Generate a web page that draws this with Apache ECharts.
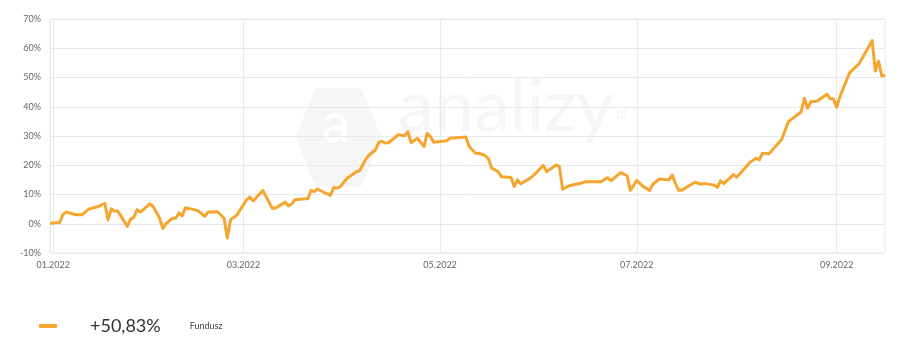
<!DOCTYPE html>
<html>
<head>
<meta charset="utf-8">
<script src="https://cdn.jsdelivr.net/npm/echarts@6/dist/echarts.min.js"></script>
<style>
html,body{margin:0;padding:0;background:#fff;}
#chart{width:912px;height:358px;}
</style>
</head>
<body>
<div id="chart"></div>
<script>
const seriesName = 'Fundusz';
const dates = [
'2021-12-31','2022-01-03','2022-01-04','2022-01-05','2022-01-07','2022-01-08','2022-01-10','2022-01-12','2022-01-15','2022-01-17',
'2022-01-18','2022-01-19','2022-01-20','2022-01-21','2022-01-24','2022-01-25','2022-01-26','2022-01-27','2022-01-28','2022-01-31',
'2022-02-01','2022-02-03','2022-02-04','2022-02-05','2022-02-07','2022-02-08','2022-02-09','2022-02-10','2022-02-11','2022-02-13',
'2022-02-15','2022-02-17','2022-02-18','2022-02-21','2022-02-23','2022-02-24','2022-02-25','2022-02-27','2022-02-28','2022-03-02',
'2022-03-03','2022-03-04','2022-03-07','2022-03-10','2022-03-11','2022-03-14','2022-03-15','2022-03-16','2022-03-17','2022-03-21',
'2022-03-22','2022-03-23','2022-03-24','2022-03-26','2022-03-28','2022-03-29','2022-03-30','2022-03-31','2022-04-02','2022-04-05',
'2022-04-06','2022-04-08','2022-04-09','2022-04-11','2022-04-12','2022-04-13','2022-04-14','2022-04-15','2022-04-18','2022-04-20',
'2022-04-21','2022-04-22','2022-04-24','2022-04-26','2022-04-27','2022-04-28','2022-04-29','2022-05-01','2022-05-03','2022-05-04',
'2022-05-07','2022-05-09','2022-05-10','2022-05-12','2022-05-13','2022-05-15','2022-05-16','2022-05-17','2022-05-19','2022-05-20',
'2022-05-23','2022-05-24','2022-05-25','2022-05-26','2022-05-29','2022-05-31','2022-06-02','2022-06-03','2022-06-06','2022-06-07',
'2022-06-08','2022-06-10','2022-06-14','2022-06-15','2022-06-20','2022-06-22','2022-06-23','2022-06-26','2022-06-28','2022-06-29',
'2022-07-01','2022-07-03','2022-07-05','2022-07-06','2022-07-08','2022-07-11','2022-07-12','2022-07-13','2022-07-14','2022-07-15',
'2022-07-19','2022-07-21','2022-07-22','2022-07-25','2022-07-26','2022-07-27','2022-07-28','2022-07-31','2022-08-01','2022-08-04',
'2022-08-05','2022-08-07','2022-08-08','2022-08-09','2022-08-11','2022-08-15','2022-08-17','2022-08-18','2022-08-21','2022-08-22',
'2022-08-23','2022-08-24','2022-08-26','2022-08-29','2022-08-30','2022-08-31','2022-09-01','2022-09-02','2022-09-05','2022-09-08',
'2022-09-12','2022-09-13','2022-09-14','2022-09-15','2022-09-16'
];
const values = [
0.2,0.4,3.1,4.0,3.4,3.1,3.1,5.0,5.9,7.0,
1.3,5.1,4.3,4.4,-0.9,1.6,2.2,4.8,4.0,6.8,
5.9,1.9,-1.6,0.0,1.9,1.9,3.7,2.7,5.5,5.0,
4.4,2.5,4.0,4.1,1.9,-4.9,1.4,3.0,4.8,8.2,
9.1,7.8,11.4,5.2,5.4,7.4,6.1,6.8,8.2,8.6,
11.4,11.0,11.9,10.7,9.7,12.4,12.2,12.6,15.4,17.8,
18.1,22.1,23.5,25.3,27.9,28.2,27.6,27.7,30.4,30.1,
31.5,27.7,29.2,26.4,30.9,29.8,27.9,28.1,28.4,29.2,
29.5,29.7,26.4,24.1,24.1,23.3,22.2,19.0,17.8,16.1,
15.8,12.7,15.0,13.7,15.6,17.6,20.0,17.8,20.1,19.6,
11.8,13.0,13.9,14.4,14.4,15.8,14.7,17.5,16.4,11.4,
14.8,12.7,11.4,13.5,15.3,15.0,16.7,13.7,11.4,11.5,
14.2,13.5,13.8,13.2,12.4,14.7,13.7,16.8,15.9,19.6,
20.9,22.4,21.8,24.1,23.9,28.9,34.9,35.7,38.3,42.9,
39.5,41.7,42.0,44.3,42.7,42.7,39.8,43.4,51.6,54.8,
62.6,52.2,55.6,50.5,50.83
];
const xTickDates = ['2022-01-01','2022-03-01','2022-05-01','2022-07-01','2022-09-01'];
const xMin = '2021-12-31';
const xMax = '2022-09-16';
const yMin = -10, yMax = 70, yStep = 10;
const watermarkText = 'analizy';

const ts = s => { const p = s.split('-').map(Number); return Date.UTC(p[0], p[1]-1, p[2]); };
const lastVal = values[values.length-1];
const lastStr = (lastVal >= 0 ? '+' : '') + lastVal.toFixed(2).replace('.', ',') + '%';
const gridCol = '#e7e9f1';
const font = 'Lato, "Open Sans", sans-serif';
const tickTs = xTickDates.map(ts);
const wmCol = '#f6f6f7';

const chart = echarts.init(document.getElementById('chart'), null, {renderer:'canvas'});
chart.setOption({
  animation: false,
  backgroundColor: '#ffffff',
  grid: {left: 50, right: 27, top: 19, bottom: 105, show: true, borderColor: gridCol, borderWidth: 1, backgroundColor: 'transparent'},
  graphic: [
    {type:'polygon', z:-10, silent:true, shape:{points:[[301,137],[319,93],[358,93],[376,137],[358,182],[319,182]]}, style:{fill:wmCol, stroke:wmCol, lineWidth:10, lineJoin:'round'}},
    {type:'text', z:-9, silent:true, left: 322, top: 96, style:{text:'a', font:'56px Lato, sans-serif', fill:'#ffffff'}},
    {type:'text', z:-10, silent:true, left: 398, top: 72, style:{text: watermarkText, font:'400 72px Lato, sans-serif', fill:wmCol}},
    {type:'text', z:-10, silent:true, left: 616, top: 106, style:{text:'pl', font:'14px Lato, sans-serif', fill:'#f3f3f5'}}
  ],
  legend: {
    left: 34, top: 312,
    icon: 'roundRect', itemWidth: 18, itemHeight: 4,
    data: [seriesName],
    formatter: name => '{v|' + lastStr + '}{n|' + name + '}',
    textStyle: {
      rich: {
        v: {fontSize: 18, color: '#333', fontFamily: font, padding: [0,0,0,28]},
        n: {fontSize: 9, color: '#444', fontFamily: font, padding: [0,0,0,29]}
      }
    }
  },
  xAxis: {
    type: 'value',
    min: ts(xMin), max: ts(xMax),
    axisLine: {show: false},
    axisTick: {show: false, customValues: tickTs},
    splitLine: {show: true, lineStyle: {color: gridCol, width: 1}},
    axisLabel: {
      customValues: tickTs,
      fontSize: 9, color: '#666', fontFamily: font, margin: 8,
      formatter: v => { const d = new Date(v); return String(d.getUTCMonth()+1).padStart(2,'0') + '.' + d.getUTCFullYear(); }
    }
  },
  yAxis: {
    type: 'value',
    min: yMin, max: yMax, interval: yStep,
    axisLine: {show: true, lineStyle: {color: gridCol}},
    axisTick: {show: false},
    splitLine: {lineStyle: {color: gridCol, width: 1}},
    axisLabel: {formatter: '{value}%', fontSize: 9, color: '#666', fontFamily: font, margin: 9}
  },
  series: [{
    name: seriesName,
    type: 'line',
    data: dates.map((d,i) => [ts(d), values[i]]),
    showSymbol: false,
    symbol: 'none',
    lineStyle: {color: '#f6a62f', width: 3, join: 'round'},
    itemStyle: {color: '#f6a62f'},
    z: 5
  }]
});
</script>
</body>
</html>
